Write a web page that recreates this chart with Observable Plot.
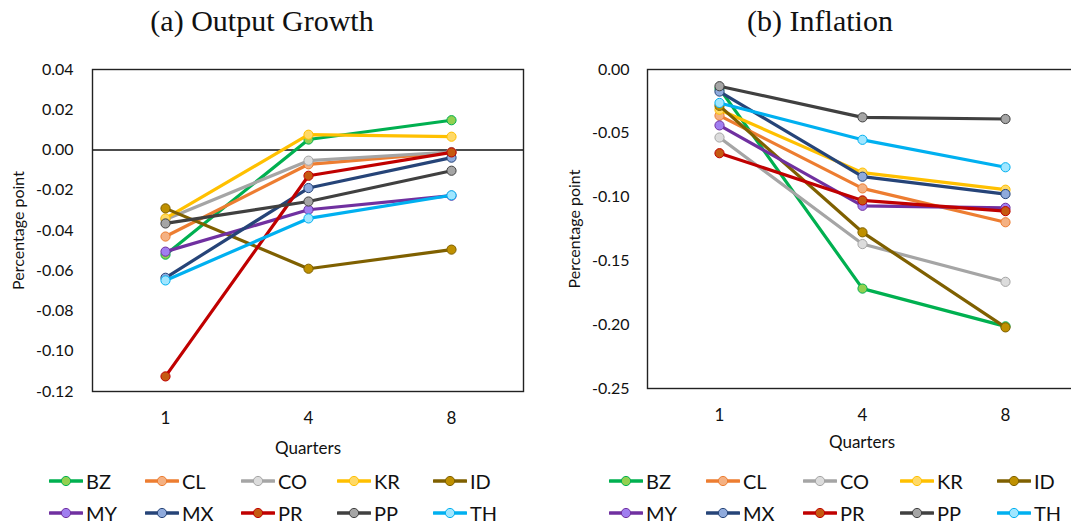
<!DOCTYPE html>
<html>
<head>
<meta charset="utf-8">
<script src="https://cdn.jsdelivr.net/npm/d3@7"></script>
<script src="https://cdn.jsdelivr.net/npm/@observablehq/plot@0.6"></script>
<style>
  html, body { margin: 0; padding: 0; background: #fff; }
  #wrap { position: relative; width: 1071px; height: 524px; overflow: hidden; background: #fff; }
  .title { position: absolute; top: 1px; height: 40px; line-height: 40px; text-align: center;
           font-family: "Liberation Serif", serif; font-size: 30px; color: #111; white-space: nowrap; }
  .panel { position: absolute; top: 40px; }
  .leg { position: absolute; height: 20px; display: flex; align-items: center;
         font-family: Lato, sans-serif; font-size: 20px; color: #111; white-space: nowrap; }
  .leg svg { display: block; margin-right: 3px; }
</style>
</head>
<body>
<div id="wrap"></div>
<script>
// ---- data ----
const countries = ["BZ", "CL", "CO", "KR", "ID", "MY", "MX", "PR", "PP", "TH"];
const quarters = ["1", "4", "8"];

// (a) Output growth, by country (order as `countries`), per quarter
const growthQ1 = [-0.052, -0.043, -0.0345, -0.034, -0.029, -0.0505, -0.0635, -0.1125, -0.0365, -0.0648];
const growthQ4 = [0.0052, -0.0071, -0.0053, 0.0076, -0.059, -0.0297, -0.0189, -0.0128, -0.0256, -0.034];
const growthQ8 = [0.0148, -0.0012, -0.0010, 0.0066, -0.0495, -0.0227, -0.0038, -0.0012, -0.0103, -0.0225];

// (b) Inflation
const inflQ1 = [-0.015, -0.0362, -0.0533, -0.0315, -0.0285, -0.0438, -0.0173, -0.0656, -0.0131, -0.0262];
const inflQ4 = [-0.1717, -0.0932, -0.1368, -0.0808, -0.1276, -0.1068, -0.084, -0.1026, -0.0375, -0.0551];
const inflQ8 = [-0.2013, -0.1197, -0.1664, -0.0942, -0.2021, -0.1084, -0.0976, -0.111, -0.0388, -0.0766];

const yTicksA = [0.04, 0.02, 0, -0.02, -0.04, -0.06, -0.08, -0.10, -0.12];
const yTicksB = [0, -0.05, -0.10, -0.15, -0.20, -0.25];

const lineColors = ["#00B050", "#ED7D31", "#A5A5A5", "#FFC000", "#7F6000", "#7030A0", "#264478", "#C00000", "#404040", "#00B0F0"];
const markerFills = ["#92D050", "#F4B183", "#DCDCDC", "#FFD966", "#BF9000", "#A07EF0", "#8FAADC", "#C55A11", "#A5A5A5", "#A0E6FF"];

// ---- helpers ----
function toRows(q1, q4, q8) {
  const cols = [q1, q4, q8];
  return countries.flatMap((c, i) => quarters.map((q, j) => ({country: c, quarter: q, value: cols[j][i]})));
}

function seriesMarks(rows) {
  const marks = [];
  countries.forEach((c, i) => {
    const d = rows.filter(r => r.country === c);
    marks.push(Plot.line(d, {x: "quarter", y: "value", stroke: lineColors[i], strokeWidth: 3.2, strokeLinejoin: "round", strokeLinecap: "round"}));
    marks.push(Plot.dot(d, {x: "quarter", y: "value", r: 4.6, fill: markerFills[i], stroke: lineColors[i], strokeWidth: 1}));
  });
  return marks;
}

const fmt = d => d.toFixed(2);
const styleCommon = {fontFamily: "Lato, sans-serif", fontSize: "17px", color: "#111", background: "transparent", overflow: "visible"};

const wrap = document.getElementById("wrap");

function addTitle(text, cx) {
  const t = document.createElement("div");
  t.className = "title";
  t.textContent = text;
  t.style.left = (cx - 200) + "px";
  t.style.width = "400px";
  wrap.appendChild(t);
}

function addLegend(x0, step) {
  countries.forEach((c, i) => {
    const row = Math.floor(i / 5), col = i % 5;
    const el = document.createElement("div");
    el.className = "leg";
    el.style.left = (x0 + col * step) + "px";
    el.style.top = (471 + row * 32) + "px";
    el.innerHTML = `<svg width="34" height="14"><line x1="1" y1="7" x2="33" y2="7" stroke="${lineColors[i]}" stroke-width="3.5" stroke-linecap="round"/><circle cx="17" cy="7" r="4.6" fill="${markerFills[i]}" stroke="${lineColors[i]}" stroke-width="1"/></svg><span>${c}</span>`;
    wrap.appendChild(el);
  });
}

// ---- panel (a) ----
const rowsA = toRows(growthQ1, growthQ4, growthQ8);
const plotA = Plot.plot({
  width: 535, height: 430,
  marginLeft: 92, marginRight: 12, marginTop: 29, marginBottom: 79,
  style: styleCommon,
  x: {type: "point", domain: quarters, padding: 0.5},
  y: {domain: [-0.12, 0.04]},
  marks: [
    Plot.axisY({ticks: yTicksA, tickFormat: fmt, tickSize: 0, tickPadding: 19, label: "Percentage point", labelArrow: "none", labelAnchor: "center", labelOffset: 80, fontSize: 16}),
    Plot.axisX({tickSize: 0, tickPadding: 20, label: "Quarters", labelArrow: "none", labelAnchor: "center", labelOffset: 62}),
    Plot.ruleY([0], {stroke: "#111", strokeWidth: 1.3}),
    ...seriesMarks(rowsA),
    Plot.frame({stroke: "#222", strokeWidth: 1.4})
  ]
});
plotA.classList.add("panel");
plotA.style.left = "0px";
wrap.appendChild(plotA);

// ---- panel (b) ----
const rowsB = toRows(inflQ1, inflQ4, inflQ8);
const plotB = Plot.plot({
  width: 517, height: 430,
  marginLeft: 87, marginRight: 1, marginTop: 29, marginBottom: 82,
  style: styleCommon,
  x: {type: "point", domain: quarters, padding: 0.5},
  y: {domain: [-0.25, 0]},
  marks: [
    Plot.axisY({ticks: yTicksB, tickFormat: fmt, tickSize: 0, tickPadding: 18, label: "Percentage point", labelArrow: "none", labelAnchor: "center", labelOffset: 79, fontSize: 16}),
    Plot.axisX({tickSize: 0, tickPadding: 20, label: "Quarters", labelArrow: "none", labelAnchor: "center", labelOffset: 59}),
    ...seriesMarks(rowsB),
    Plot.frame({stroke: "#222", strokeWidth: 1.4})
  ]
});
plotB.classList.add("panel");
plotB.style.left = "560px";
wrap.appendChild(plotB);

addTitle("(a) Output Growth", 262);
addTitle("(b) Inflation", 820);
addLegend(49, 96);
addLegend(609, 97);
</script>
</body>
</html>
